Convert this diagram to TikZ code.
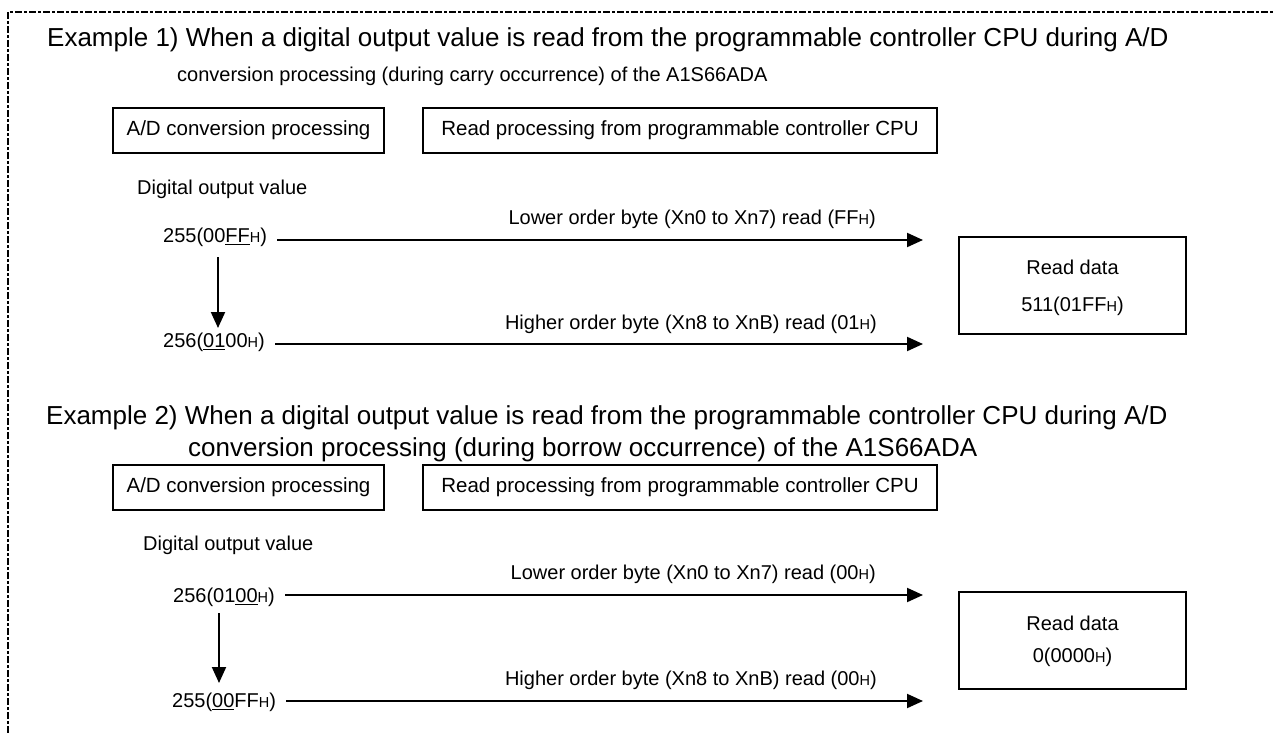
\documentclass[tikz,border=0pt]{standalone}
\usepackage{fontspec}
\setmainfont{Liberation Sans}
\usetikzlibrary{arrows.meta}
\newcommand\fsHead{\fontsize{26}{30}\selectfont}
\newcommand\fsSub{\fontsize{20}{24}\selectfont}
\newcommand\fsBox{\fontsize{20.5}{24}\selectfont}
\newcommand\fsTxt{\fontsize{20}{24}\selectfont}
\newcommand\hx{{\fontsize{14.5}{16}\selectfont H}}
\begin{document}
\begin{tikzpicture}[x=1pt,y=-1pt,
  head/.style={inner sep=0pt, anchor=mid west, font=\fsHead},
  sub/.style={inner sep=0pt, anchor=mid west, font=\fsSub},
  txt/.style={inner sep=0pt, anchor=mid west, font=\fsTxt},
  procbox/.style={draw, line width=1.2pt, inner sep=0pt, minimum height=45pt, font=\fsBox},
  databox/.style={draw, line width=1.2pt, inner sep=0pt, minimum width=227pt, minimum height=97pt},
  dtext/.style={inner sep=0pt, font=\fsTxt},
  arr/.style={line width=2pt, -{Triangle[length=16pt,width=14pt]}},
  lab/.style={inner sep=0pt, anchor=mid east, font=\fsTxt},
  frame/.style={line width=1.5pt, dash pattern=on 7pt off 2pt on 3pt off 2pt}]

\useasboundingbox (0,0) rectangle (1274,733);
\fill[white] (0,0) rectangle (1274,733);
\draw[frame] (8,733) -- (8,12) -- (1274,12);

% ---------- Example 1 ----------
\node[head] (h1) at (47,44) {Example 1) When a digital output value is read from the programmable controller CPU during A/D};
\node[sub] (s1) at (177,79) {conversion processing (during carry occurrence) of the A1S66ADA};
\node[procbox, minimum width=271pt] (b1a) at (248.5,130.5) {A/D conversion processing};
\node[procbox, minimum width=514pt] (b1b) at (680,130.5) {Read processing from programmable controller CPU};
\node[txt] (d1) at (137,192) {Digital output value};
\node[txt] (v1a) at (163,240) {255(00\underline{FF}\hx)};
\node[txt] (v1b) at (163,345) {256(\underline{01}00\hx)};
\coordinate (t1a) at (923,240);
\coordinate (t1b) at (923,344);
\draw[arr, shorten <=10pt] (v1a.east |- t1a) -- (t1a);
\draw[arr, shorten <=10pt] (v1b.east |- t1b) -- (t1b);
\node[lab] (l1a) at (876,222) {Lower order byte (Xn0 to Xn7) read (FF\hx)};
\node[lab] (l1b) at (877,327) {Higher order byte (Xn8 to XnB) read (01\hx)};
\coordinate (u1s) at (218,257);
\coordinate (u1e) at (218,328);
\draw[arr] (u1s) -- (u1e);
\node[databox] (r1) at (1072.5,285.5) {};
\node[dtext] (r1t) at ([yshift=18pt]r1.center) {Read data};
\node[dtext] (r1v) at ([yshift=-21pt]r1.center) {511(01FF\hx)};

% ---------- Example 2 ----------
\node[head] (h2) at (46,422) {Example 2) When a digital output value is read from the programmable controller CPU during A/D};
\node[head] (s2) at (188,454) {conversion processing (during borrow occurrence) of the A1S66ADA};
\node[procbox, minimum width=271pt] (b2a) at (248.5,487.5) {A/D conversion processing};
\node[procbox, minimum width=514pt] (b2b) at (680,487.5) {Read processing from programmable controller CPU};
\node[txt] (d2) at (143,548) {Digital output value};
\node[txt] (v2a) at (173,600) {256(01\underline{00}\hx)};
\node[txt] (v2b) at (172,705) {255(\underline{00}FF\hx)};
\coordinate (t2a) at (923,595);
\coordinate (t2b) at (923,701);
\draw[arr, shorten <=10pt] (v2a.east |- t2a) -- (t2a);
\draw[arr, shorten <=10pt] (v2b.east |- t2b) -- (t2b);
\node[lab] (l2a) at (876,577) {Lower order byte (Xn0 to Xn7) read (00\hx)};
\node[lab] (l2b) at (877,683) {Higher order byte (Xn8 to XnB) read (00\hx)};
\coordinate (u2s) at (219,613);
\coordinate (u2e) at (219,683);
\draw[arr] (u2s) -- (u2e);
\node[databox] (r2) at (1072.5,640.5) {};
\node[dtext] (r2t) at ([yshift=17pt]r2.center) {Read data};
\node[dtext] (r2v) at ([yshift=-17pt]r2.center) {0(0000\hx)};
\end{tikzpicture}
\end{document}
